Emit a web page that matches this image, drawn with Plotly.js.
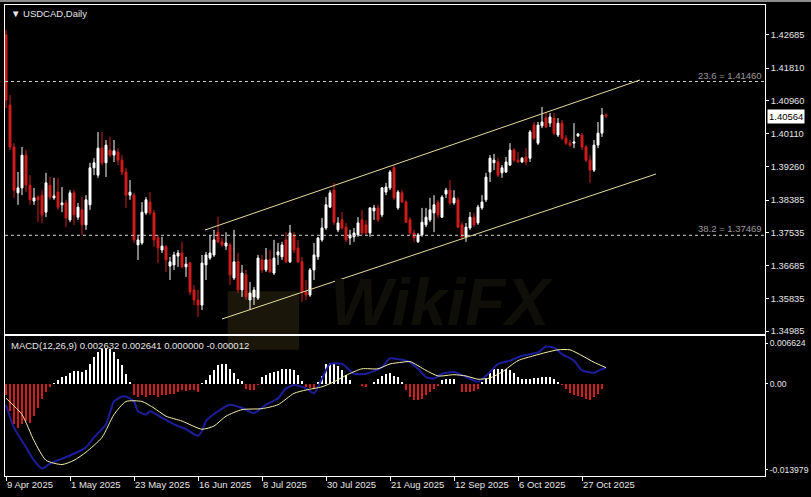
<!DOCTYPE html>
<html>
<head>
<meta charset="utf-8">
<script src="https://cdn.plot.ly/plotly-3.0.1.min.js"></script>
<style>
html,body{margin:0;padding:0;background:#000;}
#chart{width:811px;height:497px;}
</style>
</head>
<body>
<div id="chart"></div>
<script>
// ---- Data (bar index 0 = 9 Apr 2025) ----
var barOpen = [1.4267,1.4085,1.3976,1.3857,1.3870,1.3955,1.3877,1.3836,1.3846,1.3851,1.3807,1.3877,1.3844,1.3859,1.3826,1.3831,1.3787,1.3857,1.3794,1.3813,1.3774,1.3826,1.3922,1.3903,1.3973,1.3935,1.3968,1.3955,1.3963,1.3942,1.3911,1.3851,1.3851,1.3722,1.3727,1.3805,1.3833,1.3805,1.3740,1.3709,1.3717,1.3667,1.3670,1.3693,1.3701,1.3665,1.3675,1.3605,1.3579,1.3566,1.3670,1.3688,1.3696,1.3755,1.3730,1.3719,1.3722,1.3636,1.3678,1.3605,1.3644,1.3579,1.3587,1.3584,1.3683,1.3657,1.3683,1.3649,1.3696,1.3691,1.3735,1.3678,1.3748,1.3714,1.3678,1.3600,1.3592,1.3657,1.3691,1.3735,1.3766,1.3820,1.3864,1.3761,1.3787,1.3768,1.3740,1.3743,1.3748,1.3787,1.3774,1.3753,1.3810,1.3818,1.3800,1.3859,1.3870,1.3922,1.3818,1.3857,1.3833,1.3787,1.3753,1.3730,1.3748,1.3774,1.3787,1.3805,1.3831,1.3794,1.3854,1.3864,1.3831,1.3839,1.3774,1.3743,1.3766,1.3794,1.3779,1.3818,1.3839,1.3911,1.3935,1.3937,1.3909,1.3911,1.3929,1.3968,1.3942,1.3937,1.3950,1.3947,1.4033,1.3986,1.4031,1.4051,1.4038,1.4051,1.4007,1.4038,1.3999,1.3986,1.3986,1.4005,1.4007,1.3976,1.3942,1.3916,1.3981,1.4012,1.4059];
var barHigh = [1.4280,1.4111,1.3986,1.3911,1.3976,1.3968,1.3903,1.3870,1.3851,1.3864,1.3909,1.3898,1.3896,1.3896,1.3872,1.3839,1.3864,1.3864,1.3831,1.3846,1.3851,1.3935,1.3947,1.4015,1.4015,1.3994,1.4002,1.3994,1.3973,1.3955,1.3922,1.3890,1.3857,1.3748,1.3833,1.3846,1.3859,1.3813,1.3748,1.3743,1.3722,1.3691,1.3704,1.3709,1.3730,1.3691,1.3678,1.3618,1.3605,1.3696,1.3704,1.3748,1.3761,1.3794,1.3740,1.3755,1.3727,1.3761,1.3701,1.3670,1.3657,1.3626,1.3613,1.3696,1.3696,1.3714,1.3709,1.3735,1.3727,1.3730,1.3755,1.3774,1.3755,1.3735,1.3691,1.3631,1.3662,1.3727,1.3743,1.3792,1.3846,1.3864,1.3883,1.3794,1.3807,1.3779,1.3761,1.3766,1.3794,1.3813,1.3787,1.3820,1.3826,1.3826,1.3872,1.3883,1.3916,1.3929,1.3864,1.3864,1.3839,1.3794,1.3761,1.3753,1.3818,1.3818,1.3844,1.3851,1.3839,1.3851,1.3870,1.3890,1.3864,1.3846,1.3781,1.3779,1.3807,1.3805,1.3826,1.3851,1.3909,1.3955,1.3958,1.3947,1.3929,1.3950,1.3986,1.3973,1.3963,1.3950,1.3973,1.4020,1.4041,1.4041,1.4080,1.4067,1.4064,1.4064,1.4051,1.4046,1.4007,1.3994,1.4038,1.4012,1.4012,1.3981,1.3955,1.3994,1.4041,1.4077,1.4064];
var barLow = [1.4077,1.3968,1.3844,1.3826,1.3851,1.3859,1.3826,1.3826,1.3781,1.3779,1.3794,1.3839,1.3839,1.3813,1.3807,1.3768,1.3781,1.3774,1.3787,1.3748,1.3761,1.3813,1.3903,1.3896,1.3929,1.3898,1.3950,1.3937,1.3929,1.3903,1.3818,1.3839,1.3727,1.3683,1.3722,1.3800,1.3800,1.3717,1.3675,1.3701,1.3652,1.3631,1.3657,1.3665,1.3662,1.3639,1.3592,1.3566,1.3535,1.3553,1.3631,1.3683,1.3691,1.3727,1.3717,1.3709,1.3618,1.3631,1.3597,1.3587,1.3579,1.3553,1.3566,1.3579,1.3649,1.3652,1.3649,1.3644,1.3670,1.3683,1.3675,1.3675,1.3701,1.3675,1.3574,1.3579,1.3587,1.3631,1.3683,1.3730,1.3761,1.3818,1.3774,1.3755,1.3761,1.3730,1.3722,1.3730,1.3743,1.3748,1.3748,1.3743,1.3787,1.3781,1.3794,1.3851,1.3864,1.3839,1.3813,1.3831,1.3779,1.3748,1.3730,1.3727,1.3743,1.3768,1.3781,1.3755,1.3792,1.3792,1.3844,1.3826,1.3826,1.3766,1.3735,1.3730,1.3761,1.3768,1.3774,1.3813,1.3833,1.3885,1.3916,1.3898,1.3896,1.3909,1.3927,1.3937,1.3935,1.3935,1.3929,1.3937,1.3994,1.3981,1.4025,1.4025,1.4028,1.4007,1.4002,1.3994,1.3981,1.3976,1.3973,1.4002,1.3968,1.3937,1.3883,1.3911,1.3973,1.4002,1.4051];
var barClose = [1.4098,1.3976,1.3864,1.3870,1.3955,1.3877,1.3839,1.3844,1.3839,1.3800,1.3883,1.3846,1.3849,1.3820,1.3831,1.3792,1.3857,1.3800,1.3820,1.3774,1.3839,1.3922,1.3935,1.3973,1.3935,1.3981,1.3955,1.3966,1.3942,1.3911,1.3851,1.3859,1.3735,1.3735,1.3807,1.3839,1.3805,1.3735,1.3714,1.3719,1.3683,1.3678,1.3696,1.3701,1.3665,1.3672,1.3600,1.3579,1.3566,1.3675,1.3696,1.3701,1.3735,1.3730,1.3722,1.3727,1.3644,1.3678,1.3605,1.3649,1.3587,1.3597,1.3605,1.3688,1.3657,1.3683,1.3652,1.3688,1.3704,1.3722,1.3678,1.3753,1.3709,1.3678,1.3600,1.3592,1.3657,1.3696,1.3740,1.3766,1.3826,1.3857,1.3781,1.3779,1.3766,1.3735,1.3748,1.3753,1.3779,1.3753,1.3753,1.3818,1.3818,1.3787,1.3870,1.3872,1.3911,1.3844,1.3859,1.3833,1.3781,1.3753,1.3740,1.3748,1.3781,1.3794,1.3813,1.3826,1.3800,1.3846,1.3864,1.3831,1.3844,1.3768,1.3743,1.3768,1.3794,1.3774,1.3820,1.3833,1.3898,1.3947,1.3942,1.3903,1.3922,1.3937,1.3968,1.3942,1.3937,1.3947,1.3937,1.4015,1.3999,1.4033,1.4041,1.4028,1.4054,1.4012,1.4038,1.3999,1.3986,1.3981,1.3989,1.4010,1.3976,1.3942,1.3916,1.3981,1.4012,1.4059,1.40564];

var dateLabels = ["9 Apr 2025","1 May 2025","23 May 2025","16 Jun 2025","8 Jul 2025","30 Jul 2025","21 Aug 2025","12 Sep 2025","6 Oct 2025","27 Oct 2025"];
var dateLabelIdx = [0,16,32,48,64,80,96,112,128,144];

var priceTicks = [1.42685,1.41810,1.40960,1.40110,1.39260,1.38385,1.37535,1.36685,1.35835,1.34985];

var fibLevels = [1.41460, 1.37469];
var fibNames = ["23.6", "38.2"];

var chanUpperIdx = [49.75, 158.5];
var chanUpperPrice = [1.37606, 1.41499];
var chanLowerIdx = [54, 162.5];
var chanLowerPrice = [1.35297, 1.39060];

// MACD histogram, one value per bar
var macdHist = [-0.00176,-0.00448,-0.00656,-0.00720,-0.00656,-0.00608,-0.00640,-0.00528,-0.00400,-0.00240,-0.00128,-0.00048,0.00016,0.00064,0.00112,0.00128,0.00176,0.00208,0.00208,0.00192,0.00224,0.00320,0.00432,0.00512,0.00560,0.00592,0.00560,0.00512,0.00400,0.00304,0.00160,0.00032,-0.00176,-0.00208,-0.00176,-0.00208,-0.00176,-0.00176,-0.00208,-0.00176,-0.00176,-0.00160,-0.00160,-0.00128,-0.00096,-0.00112,-0.00096,-0.00096,-0.00128,0.00008,0.00064,0.00144,0.00224,0.00304,0.00320,0.00320,0.00240,0.00176,0.00080,0.00048,-0.00080,-0.00096,-0.00096,-0.00016,0.00112,0.00144,0.00176,0.00192,0.00208,0.00240,0.00240,0.00240,0.00224,0.00144,0.00048,-0.00048,-0.00064,-0.00064,0.00032,0.00128,0.00320,0.00336,0.00320,0.00288,0.00224,0.00144,0.00064,0.00002,-0.00004,-0.00032,-0.00048,-0.00008,0.00032,0.00080,0.00128,0.00160,0.00176,0.00128,0.00112,0.00032,-0.00096,-0.00208,-0.00256,-0.00272,-0.00240,-0.00176,-0.00128,-0.00080,-0.00032,0.00064,0.00080,0.00080,0.00080,-0.00004,-0.00128,-0.00128,-0.00128,-0.00112,-0.00080,0.00032,0.00080,0.00176,0.00240,0.00240,0.00240,0.00240,0.00224,0.00176,0.00112,0.00080,0.00080,0.00080,0.00096,0.00096,0.00112,0.00112,0.00112,0.00080,0.00032,-0.00016,-0.00080,-0.00144,-0.00176,-0.00192,-0.00208,-0.00240,-0.00256,-0.00208,-0.00160,-0.00080,-0.000012];

// MACD main line (blue), read at these bar indices
var macdIdx = [0,2,5,7,9,11,14,17,20,22,25,27,29,30,32,33,35,36,39,42,45,48,49,50,53,56,59,62,65,68,70,72,75,77,79,81,84,87,90,94,96,99,101,103,105,107,109,112,115,118,121,123,126,129,133,135,137,139,142,144,147,149,150];
var macdMain = [-0.00341,-0.00715,-0.01035,-0.01248,-0.01381,-0.01301,-0.01221,-0.01141,-0.01035,-0.00875,-0.00661,-0.00288,-0.00208,-0.00208,-0.00288,-0.00448,-0.00501,-0.00448,-0.00555,-0.00661,-0.00741,-0.00848,-0.00768,-0.00608,-0.00448,-0.00341,-0.00395,-0.00475,-0.00341,-0.00235,-0.00075,-0.00021,-0.00075,-0.00155,0.00085,0.00325,0.00325,0.00165,0.00165,0.00272,0.00416,0.00392,0.00352,0.00245,0.00110,0.00085,0.00165,0.00192,0.00112,0.00032,0.00192,0.00325,0.00379,0.00459,0.00512,0.00608,0.00592,0.00485,0.00379,0.00219,0.00181,0.00240,0.002632];

// Signal line (yellow), read at these bar indices
var signalIdx = [0,4,7,10,14,17,20,24,27,30,34,37,40,44,49,52,55,59,64,68,72,75,79,82,85,89,93,96,99,101,105,108,112,115,118,121,124,128,132,135,138,141,144,147,150];
var signalLine = [-0.00235,-0.00501,-0.00928,-0.01248,-0.01317,-0.01248,-0.01115,-0.00875,-0.00501,-0.00288,-0.00288,-0.00395,-0.00528,-0.00608,-0.00741,-0.00688,-0.00528,-0.00421,-0.00405,-0.00341,-0.00155,-0.00101,-0.00048,0.00032,0.00139,0.00245,0.00245,0.00325,0.00352,0.00363,0.00219,0.00128,0.00149,0.00128,0.00075,0.00096,0.00192,0.00379,0.00459,0.00512,0.00555,0.00555,0.00459,0.00352,0.002641];

var macdTicks = [0.006624, 0, -0.013979];
var macdTickText = ["0.006624", "0.00", "-0.013979"];
var macdHeader = "MACD(12,26,9) 0.002632 0.002641 0.000000 -0.000012";
var chartTitle = "USDCAD,Daily";

// ---- Build ----
var barIdx = barOpen.map(function(_, i){ return i; });
var RED = '#d01c1c';
var TXT = '#e6e6e6';
var FONT = 'Liberation Sans, Arial, sans-serif';

var traces = [
  {
    type: 'candlestick', x: barIdx, open: barOpen, high: barHigh, low: barLow, close: barClose,
    xaxis: 'x', yaxis: 'y',
    increasing: {line: {color: '#ffffff', width: 1}, fillcolor: '#ffffff'},
    decreasing: {line: {color: RED, width: 1}, fillcolor: RED},
    whiskerwidth: 0, hoverinfo: 'skip', showlegend: false
  },
  {
    type: 'scatter', mode: 'lines', x: chanUpperIdx, y: chanUpperPrice, xaxis: 'x', yaxis: 'y',
    line: {color: '#e6dc9a', width: 1}, hoverinfo: 'skip', showlegend: false
  },
  {
    type: 'scatter', mode: 'lines', x: chanLowerIdx, y: chanLowerPrice, xaxis: 'x', yaxis: 'y',
    line: {color: '#e6dc9a', width: 1}, hoverinfo: 'skip', showlegend: false
  },
  {
    type: 'bar', x: barIdx, y: macdHist, xaxis: 'x2', yaxis: 'y2', width: 0.3,
    marker: {color: macdHist.map(function(v){ return v >= 0 ? '#ffffff' : RED; }), line: {width: 0}},
    hoverinfo: 'skip', showlegend: false
  },
  {
    type: 'scatter', mode: 'lines', x: macdIdx, y: macdMain, xaxis: 'x2', yaxis: 'y2',
    line: {color: '#1d1d9c', width: 2, shape: 'spline', smoothing: 0.6}, hoverinfo: 'skip', showlegend: false
  },
  {
    type: 'scatter', mode: 'lines', x: signalIdx, y: signalLine, xaxis: 'x2', yaxis: 'y2',
    line: {color: '#f4f0a8', width: 1, shape: 'spline', smoothing: 0.6}, hoverinfo: 'skip', showlegend: false
  }
];

var xr = [-0.25, 189.75];
var shapes = [];
var annotations = [];

fibLevels.forEach(function(lv, i){
  shapes.push({type: 'line', xref: 'x domain', yref: 'y', x0: 0, x1: 1, y0: lv, y1: lv,
    line: {color: '#cfcfcf', width: 1, dash: '3px,3px'}});
  annotations.push({xref: 'x domain', yref: 'y', x: 1, y: lv, xanchor: 'right', yanchor: 'bottom',
    xshift: -1, yshift: -1, showarrow: false, text: fibNames[i] + ' = ' + lv.toFixed(5),
    font: {family: FONT, size: 9.5, color: '#9a9a9a'}});
});

// watermark logo square (decoration)
shapes.push({type: 'rect', xref: 'paper', yref: 'paper', layer: 'below',
  x0: 0.293, x1: 0.387, y0: 0.268, y1: 0.392, fillcolor: '#1a170a', line: {width: 0}});
// top grey strip
shapes.push({type: 'line', xref: 'paper', yref: 'paper', x0: -0.01, x1: 1.07, y0: 1.0085, y1: 1.0085,
  line: {color: '#8c8c8c', width: 2}});

annotations.push({xref: 'paper', yref: 'paper', x: 0.425, y: 0.37, xanchor: 'left', yanchor: 'middle',
  showarrow: false, text: '<b><i>WikiFX</i></b>', font: {family: FONT, size: 66, color: '#100e08'}});

annotations.push({xref: 'paper', yref: 'paper', x: 0.005, y: 0.983, xanchor: 'left', yanchor: 'middle',
  showarrow: false, text: '\u25BC ' + chartTitle, font: {family: FONT, size: 9.5, color: TXT}});
annotations.push({xref: 'paper', yref: 'paper', x: 0.005, y: 0.278, xanchor: 'left', yanchor: 'middle',
  showarrow: false, text: macdHeader, font: {family: FONT, size: 9.5, color: TXT}});
annotations.push({xref: 'x domain', yref: 'y', x: 1, y: barClose[barClose.length - 1], xanchor: 'left',
  yanchor: 'middle', xshift: 2, showarrow: false, text: barClose[barClose.length - 1].toFixed(5),
  bgcolor: '#ffffff', borderpad: 1, font: {family: FONT, size: 9.5, color: '#000000'}});

var layout = {
  width: 811, height: 497,
  paper_bgcolor: '#000000', plot_bgcolor: '#000000',
  margin: {l: 5, r: 46, t: 5, b: 21},
  showlegend: false, dragmode: false, hovermode: false,
  font: {family: FONT, size: 9.5, color: TXT},
  xaxis: {domain: [0, 1], anchor: 'y', range: xr, showticklabels: false, ticks: '', showgrid: false,
    zeroline: false, showline: true, linecolor: '#ffffff', linewidth: 1, mirror: true,
    rangeslider: {visible: false}, fixedrange: true},
  yaxis: {domain: [0.3015, 1], anchor: 'x', side: 'right', range: [1.34908, 1.43445],
    tickvals: priceTicks, ticktext: priceTicks.map(function(v){ return v.toFixed(5); }),
    ticks: 'outside', ticklen: 3, tickcolor: '#ffffff', showgrid: false, zeroline: false,
    showline: true, linecolor: '#ffffff', linewidth: 1, mirror: true,
    tickfont: {family: FONT, size: 9.3, color: TXT}, fixedrange: true},
  xaxis2: {domain: [0, 1], anchor: 'y2', range: xr, tickvals: dateLabelIdx, ticktext: dateLabels,
    ticks: 'outside', ticklen: 4, tickcolor: '#ffffff', ticklabelposition: 'outside right',
    showgrid: false, zeroline: false, showline: true, linecolor: '#ffffff', linewidth: 1, mirror: true,
    tickfont: {family: FONT, size: 9.5, color: TXT}, fixedrange: true},
  yaxis2: {domain: [0, 0.2972], anchor: 'x2', side: 'right', range: [-0.01504, 0.0078],
    tickvals: macdTicks, ticktext: macdTickText, ticks: 'outside', ticklen: 2, tickcolor: '#ffffff',
    showgrid: false, zeroline: false, showline: true, linecolor: '#ffffff', linewidth: 1, mirror: true,
    tickfont: {family: FONT, size: 8.6, color: TXT}, fixedrange: true},
  shapes: shapes,
  annotations: annotations,
  bargap: 0
};

Plotly.newPlot('chart', traces, layout, {staticPlot: true, displayModeBar: false});
</script>
</body>
</html>
